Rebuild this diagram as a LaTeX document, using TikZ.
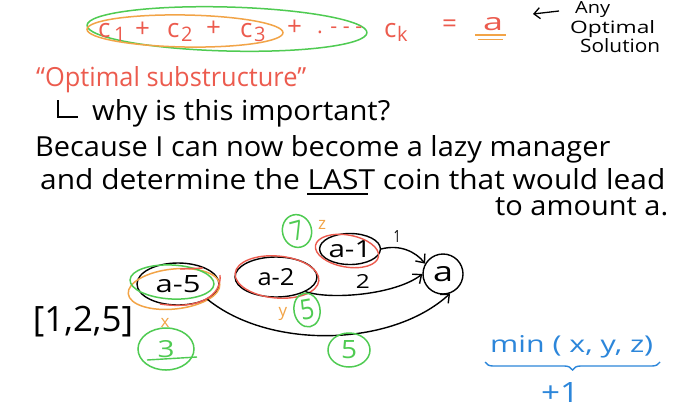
\documentclass[tikz,border=0pt]{standalone}
\usepackage{fontspec}
\setmainfont{Open Sans}
\usetikzlibrary{shapes.geometric,arrows.meta,decorations.pathreplacing}
\definecolor{penred}{HTML}{EC5B4E}
\definecolor{penorange}{HTML}{F2A447}
\definecolor{pengreen}{HTML}{4FCB52}
\definecolor{penblue}{HTML}{2C86DA}
\begin{document}
\begin{tikzpicture}[x=1pt,y=-1pt,
  hand/.style={inner sep=0pt,anchor=base west},
  redtxt/.style={hand,text=penred,font=\fontsize{26}{30}\selectfont},
  redsub/.style={hand,text=penred,font=\fontsize{20}{24}\selectfont},
  graphnode/.style={ellipse,draw=black,line width=1.4pt,inner sep=0pt},
  greenring/.style={ellipse,draw=pengreen,line width=1.5pt,inner sep=0pt,text=pengreen},
  orangetxt/.style={inner sep=0pt,text=penorange,font=\fontsize{17}{19}\selectfont},
  edge/.style={draw=black,line width=1.4pt,-{Straight Barb[length=7pt,width=12pt]}},
  bigtxt/.style={hand,text=black}
]
\useasboundingbox (0,0) rectangle (690,416);
\fill[white] (0,0) rectangle (690,416);

% top formula
\draw[pengreen,line width=1.5pt,rotate around={-1.5:(227,29)}] (227,29) ellipse [x radius=140pt,y radius=22pt];
\draw[penorange,line width=1.5pt,rotate around={-1:(185,31)}] (185,31) ellipse [x radius=98pt,y radius=16pt];
\node[redtxt] (c1) at (98,37) {c};
\node[redsub] (s1) at (114,41) {1};
\node[redtxt] (p1) at (135,37) {+};
\node[redtxt] (c2) at (167,37) {c};
\node[redsub] (s2) at (181,41) {2};
\node[redtxt] (p2) at (206,36) {+};
\node[redtxt] (c3) at (240,37) {c};
\node[redsub] (s3) at (254,41) {3};
\node[redtxt] (p3) at (287,35) {+};
\node[hand,text=penred] (dots) at (317,33) {\resizebox{45pt}{!}{\fontsize{26}{30}\selectfont. - - -}};
\node[redtxt] (ck) at (384,37) {c};
\node[redsub] (sk) at (397,41) {k};
\node[redtxt] (eq) at (442,32) {=};
\node[hand,text=penred] (av) at (483,30) {\resizebox{20pt}{13pt}{a}};
\draw[penorange,line width=1.4pt] (475,35) -- (506,35) (478,39.5) -- (503,39.5);

% annotation
\node[hand] (any) at (575,13) {\resizebox{35pt}{12pt}{Any}};
\node[hand] (opt) at (570,33) {\resizebox{85pt}{13pt}{Optimal}};
\node[hand] (sol) at (580,52) {\resizebox{80pt}{14pt}{Solution}};
\coordinate (arrS) at (559,11);
\coordinate (arrE) at (533,14);
\draw[black,line width=1.3pt,-{Straight Barb[length=6pt,width=11pt]}] (arrS) -- (arrE);

% text lines
\node[hand,text=penred] (sub) at (36,86) {\resizebox{270pt}{20pt}{“Optimal substructure”}};
\coordinate (Lt) at (58,100);
\coordinate (Lc) at (58,117);
\coordinate (Lr) at (78,117);
\draw[line width=1.4pt] (Lt) -- (Lc) -- (Lr);
\node[bigtxt] (why) at (92,120) {\resizebox{298pt}{21pt}{why is this important?}};
\node[bigtxt] (because) at (35,156) {\resizebox{575pt}{21pt}{Because I can now become a lazy manager}};
\node[bigtxt] (determine) at (40,189) {\resizebox{625pt}{21pt}{and determine the LAST coin that would lead}};
\coordinate (u1) at (307,194);
\coordinate (u2) at (368,194);
\draw[line width=1.4pt] (u1) -- (u2);
\node[bigtxt] (amount) at (495,215) {\resizebox{173pt}{18pt}{to amount a.}};

% graph
\node[graphnode,minimum width=82pt,minimum height=42pt] (a5) at (178,284) {\resizebox{45pt}{17pt}{a-5}};
\node[graphnode,minimum width=82pt,minimum height=40pt] (a2) at (276,277) {\resizebox{37pt}{17pt}{a-2}};
\node[graphnode,minimum width=60pt,minimum height=31pt] (a1) at (350,249) {\resizebox{43pt}{17pt}{a-1}};
\node[circle,draw=black,line width=1.4pt,minimum size=40pt,inner sep=0pt] (a) at (443,274) {\resizebox{20pt}{15pt}{a}};

\draw[penorange,line width=1.5pt,rotate around={6:(174,289)}] (174,289) ellipse [x radius=46pt,y radius=20pt];
\draw[pengreen,line width=1.5pt,rotate around={-3:(172,282)}] (172,282) ellipse [x radius=42pt,y radius=17pt];
\draw[penred,line width=1.4pt] (160,304) .. controls (200,310) and (222,295) .. (220,275);
\draw[penred,line width=1.4pt] (180,269) -- (203,268);
\draw[penred,line width=1.4pt,rotate around={-5:(277,277)}] (277,277) ellipse [x radius=42pt,y radius=21pt];
\draw[penred,line width=1.4pt,rotate around={-10:(347,251)}] (347,251) ellipse [x radius=32pt,y radius=16pt];

\draw[edge] (a1.east) .. controls (400,244) and (416,252) .. (a.150) node[pos=0.3,above=1pt] (l1) {\resizebox{7pt}{12pt}{1}};
\draw[edge] (a2.south east) .. controls (330,300) and (395,295) .. (a.west) node[pos=0.5,above=1pt] (l2) {\resizebox{14pt}{14pt}{2}};
\draw[edge] (a5.south east) .. controls (270,350) and (392,347) .. (a.-70);

% green rings
\node[greenring,minimum width=29pt,minimum height=33pt,rotate=15] (g7) at (297,231) {\resizebox{13pt}{19pt}{7}};
\node[greenring,minimum width=26pt,minimum height=34pt,rotate=10] (g5) at (307,310) {\resizebox{14pt}{20pt}{5}};
\node[greenring,minimum width=56pt,minimum height=42pt] (g3) at (166,349) {\resizebox{17pt}{17pt}{3}};
\coordinate (g3u1) at (147,360);
\coordinate (g3u2) at (197,357);
\draw[pengreen,line width=1.4pt] (g3u1) -- (g3u2);
\node[greenring,minimum width=42pt,minimum height=34pt] (g5b) at (349,350) {\resizebox{16pt}{18pt}{5}};

\node[orangetxt] (z) at (322,225) {z};
\node[orangetxt] (y) at (283,314) {y};
\node[orangetxt] (x) at (165,323) {x};

% coins
\node[inner sep=0pt] (coins) at (83,322) {\resizebox{100pt}{!}{\fontsize{24}{28}\selectfont[1,2,5]}};

% min
\node[hand,text=penblue] (min) at (490,352) {\resizebox{163pt}{17pt}{min ( x, y, z)}};
\coordinate (b1) at (485,362);
\coordinate (b2) at (660,362);
\draw[penblue,line width=1.4pt,decorate,decoration={brace,amplitude=8pt,mirror}] (b1) -- (b2);
\node[inner sep=0pt,text=penblue] (plus1) at (560,392) {\resizebox{38pt}{20pt}{+1}};
\end{tikzpicture}
\end{document}
